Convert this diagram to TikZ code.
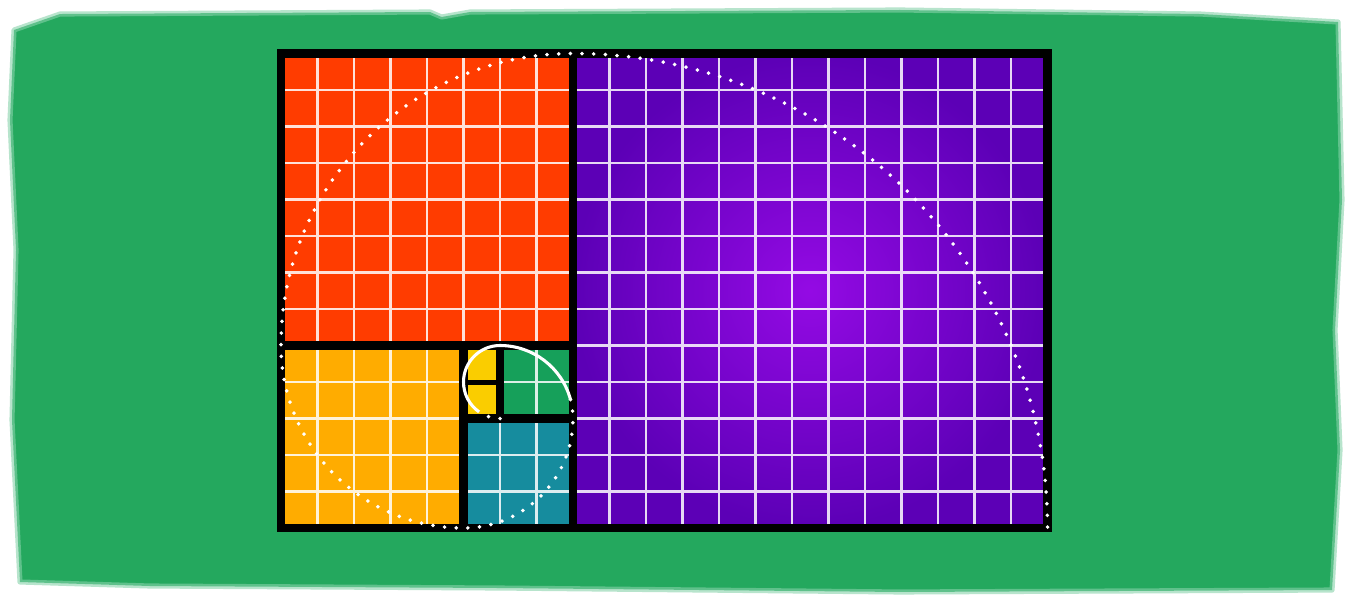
\documentclass[tikz,border=0pt]{standalone}
\usetikzlibrary{calc}
\definecolor{fibBack}{RGB}{36,168,94}
\definecolor{fibBackLight}{RGB}{135,210,170}
\definecolor{fibRed}{RGB}{255,60,0}
\definecolor{fibOrange}{RGB}{255,172,0}
\definecolor{fibTeal}{RGB}{22,140,158}
\definecolor{fibGreen}{RGB}{22,160,90}
\definecolor{fibYellow}{RGB}{250,205,0}
\definecolor{fibPurpleIn}{RGB}{148,10,228}
\definecolor{fibPurpleOut}{RGB}{92,0,182}

\begin{document}
\begin{tikzpicture}[x=1cm,y=1cm,
    gridline/.style={white,opacity=0.85,line width=1.7pt},
    border/.style={black,line width=6.6pt},
    spiral/.style={white,line width=2.4pt},
    dots/.style={white,line width=3.1pt,line cap=round,dash pattern=on 0pt off 9.1pt}]
  \fill[white] (-7.699,-2.384) rectangle (29.753,14.466);
  \useasboundingbox (-7.699,-2.384) rectangle (29.753,14.466);
  \draw[fibBackLight,line width=4pt,line join=round,fill=fibBack,draw opacity=0.6] (-7.315,13.644) -- (-6.055,14.082) -- (4.082,14.137) -- (4.400,14.000)
    -- (5.178,14.137) -- (16.959,14.192) -- (25.178,14.082) -- (28.959,13.863) -- (29.068,8.986) -- (28.877,5.425)
    -- (29.014,2.137) -- (28.795,-1.699) -- (16.959,-1.753) -- (6.0,-1.644) -- (-3.589,-1.589) -- (-7.151,-1.479)
    -- (-7.370,2.959) -- (-7.260,7.616) -- (-7.425,11.178) -- cycle;
  \fill[fibRed] (0,5) rectangle (8,13);
  \shade[inner color=fibPurpleIn,outer color=fibPurpleOut] (8,0) rectangle (21,13);
  \fill[fibOrange] (0,0) rectangle (5,5);
  \fill[fibTeal] (5,0) rectangle (8,3);
  \fill[fibGreen] (6,3) rectangle (8,5);
  \fill[fibYellow] (5,3) rectangle (6,5);
  \draw[gridline] (0,0) grid (21,13);
  \draw[border] (0,0) rectangle (21,13);
  \draw[border] (8,0) -- (8,13);
  \draw[border] (0,5) -- (8,5);
  \draw[border] (5,0) -- (5,5);
  \draw[border] (5,3) -- (8,3);
  \draw[border] (6,3) -- (6,5);
  \draw[border,line width=3.9pt] (5,4) -- (6,4);
  \draw[dots] (6,3) arc[start angle=270,end angle=235,radius=1];
  \draw[spiral] ($(6,4)+(235:1)$) arc[start angle=235,end angle=180,radius=1]
    arc[start angle=180,end angle=90,radius=1] arc[start angle=90,end angle=15,radius=2];
  \draw[dots] ($(6,3)+(15:2)$) arc[start angle=15,end angle=0,radius=2] arc[start angle=0,end angle=-90,radius=3]
    arc[start angle=270,end angle=180,radius=5] arc[start angle=180,end angle=90,radius=8]
    arc[start angle=90,end angle=0,radius=13];
\end{tikzpicture}
\end{document}
